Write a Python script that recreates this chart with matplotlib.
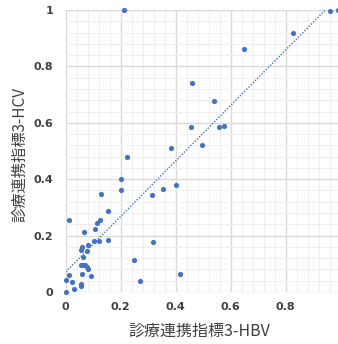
import matplotlib
matplotlib.use("Agg")
import matplotlib.pyplot as plt
import numpy as np
from matplotlib.ticker import MultipleLocator

# 診療連携指標3: HBV (x) vs HCV (y)
hbv = [0.96, 0.99, 0.827, 0.647, 0.458, 0.540, 0.455, 0.559, 0.575, 0.496,
       0.382, 0.212, 0.224, 0.200, 0.201, 0.129, 0.315, 0.354, 0.013, 0.155,
       0.124, 0.114, 0.105, 0.068, 0.104, 0.120, 0.155, 0.319, 0.082, 0.060,
       0.057, 0.076, 0.064, 0.056, 0.063, 0.070, 0.076, 0.081, 0.060, 0.092,
       0.013, 0.000, 0.022, 0.057, 0.057, 0.029, 0.000, 0.249, 0.269, 0.402,
       0.415]
hcv = [0.997, 1.000, 0.920, 0.861, 0.741, 0.676, 0.584, 0.584, 0.587, 0.520,
       0.510, 1.000, 0.479, 0.402, 0.362, 0.346, 0.344, 0.365, 0.257, 0.287,
       0.254, 0.243, 0.223, 0.214, 0.180, 0.180, 0.184, 0.177, 0.167, 0.160,
       0.149, 0.146, 0.123, 0.096, 0.096, 0.094, 0.087, 0.083, 0.063, 0.057,
       0.059, 0.044, 0.036, 0.028, 0.022, 0.011, 0.000, 0.113, 0.038, 0.381,
       0.063]
ticks = [0, 0.2, 0.4, 0.6, 0.8, 1]
tick_labels = ["0", "0.2", "0.4", "0.6", "0.8", "1"]
x_label = "診療連携指標3-HBV"
y_label = "診療連携指標3-HCV"

W, H = 338, 344
fig = plt.figure(figsize=(W / 100, H / 100), dpi=100)
ax = fig.add_axes([65.7 / W, 52 / H, 275 / W, 282 / H])

x = np.array(hbv)
y = np.array(hcv)
slope, intercept = np.polyfit(x, y, 1)
xt = np.array([0.0, 1.0])
ax.plot(xt, slope * xt + intercept, linestyle=(0, (1, 1.2)), color="#4472C4",
        lw=1.0, zorder=2)

ax.scatter(x, y, s=14, color="#4472C4", linewidths=0, zorder=3, clip_on=False)

ax.set_xlim(0, 1)
ax.set_ylim(0, 1)
ax.xaxis.set_minor_locator(MultipleLocator(0.04))
ax.yaxis.set_minor_locator(MultipleLocator(0.04))
ax.set_xticks(ticks)
ax.set_xticklabels(tick_labels)
ax.set_yticks(ticks)
ax.set_yticklabels(tick_labels)
ax.grid(which="minor", color="#f0f0f0", lw=0.8, zorder=0)
ax.grid(which="major", color="#d9d9d9", lw=1.0, zorder=1)
ax.set_axisbelow(True)
for s in ax.spines.values():
    s.set_visible(False)
ax.tick_params(which="both", length=0)
ax.tick_params(axis="x", pad=7)
ax.tick_params(axis="y", pad=9)
for lab in ax.get_xticklabels() + ax.get_yticklabels():
    lab.set_fontsize(8)
    lab.set_fontweight("bold")
    lab.set_color("#404040")

fam = ["Noto Sans CJK JP", "DejaVu Sans"]
fig.text(199 / W, 1 - 331 / H, x_label, ha="center", va="center",
         fontsize=11.5, family=fam, color="#404040")
fig.text(20 / W, 1 - 155 / H, y_label, ha="center", va="center",
         rotation=90, fontsize=11, family=fam, color="#404040")

fig.savefig("out.png", dpi=100)
